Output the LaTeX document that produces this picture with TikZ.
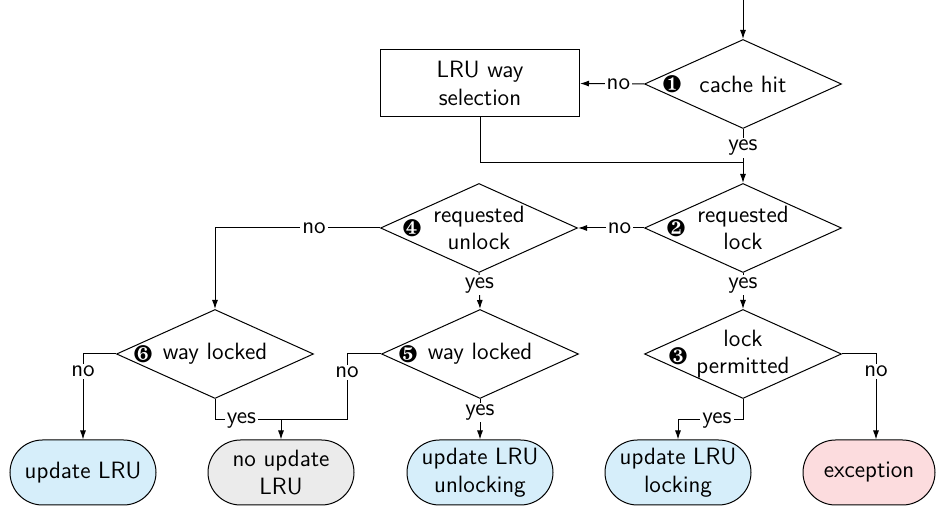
\documentclass[tikz,border=0pt]{standalone}
\usepackage{pifont}
\usetikzlibrary{shapes.geometric,shapes.misc,arrows.meta,calc}

\definecolor{termblue}{RGB}{214,238,250}
\definecolor{termgray}{RGB}{235,235,235}
\definecolor{termpink}{RGB}{252,220,222}

\tikzset{
  decision/.style={draw, shape=diamond, minimum width=98.5pt, minimum height=44.5pt, inner sep=0pt},
  dtext/.style={align=center, inner sep=0pt},
  num/.style={inner sep=0pt, font=\fontsize{12}{14}\selectfont},
  process/.style={draw, rectangle, minimum width=99.5pt, minimum height=33.5pt, align=center, inner sep=0pt},
  terminal/.style={draw, rounded rectangle, minimum width=73pt, minimum height=32.5pt, align=center, inner sep=0pt},
  arr/.style={-{Latex[length=4.5pt,width=3pt]}},
  lbl/.style={fill=white, inner sep=1pt},
}

\begin{document}
\begin{tikzpicture}[x=0.5pt, y=-0.5pt, line width=0.5pt,
  font=\sffamily\fontsize{11.8}{13.8}\selectfont]
\useasboundingbox (0,0) rectangle (937,506);

% decisions
\node[decision] (d1) at (743,84) {};
\node[dtext] at (d1) {cache hit};
\node[num] at ($(d1)+(-71,0)$) {\ding{182}};

\node[decision] (d2) at (743,228) {};
\node[dtext] at (d2) {requested\\lock};
\node[num] at ($(d2)+(-67,0)$) {\ding{183}};

\node[decision] (d4) at (479,228) {};
\node[dtext] at (d4) {requested\\unlock};
\node[num] at ($(d4)+(-67,0)$) {\ding{185}};

\node[decision] (d6) at (215,354) {};
\node[dtext] at (d6) {way locked};
\node[num] at ($(d6)+(-72,0)$) {\ding{187}};

\node[decision] (d5) at (480,354) {};
\node[dtext] at (d5) {way locked};
\node[num] at ($(d5)+(-72,0)$) {\ding{186}};

\node[decision] (d3) at (743,354) {};
\node[dtext] at (d3) {lock\\permitted};
\node[num] at ($(d3)+(-65,2)$) {\ding{184}};

% process box
\node[process] (sel) at (480,83.5) {LRU way\\selection};

% terminals
\node[terminal, fill=termblue] (t1) at (83,472.5) {update LRU};
\node[terminal, fill=termgray] (t2) at (281,472.5) {no update\\LRU};
\node[terminal, fill=termblue] (t3) at (480,472.5) {update LRU\\unlocking};
\node[terminal, fill=termblue] (t4) at (678,472.5) {update LRU\\locking};
\node[terminal, fill=termpink, minimum width=66pt] (t5) at (869,472.5) {exception};

% junction points
\coordinate (in) at (743,0);
\coordinate (j1) at (743,163);
\coordinate (m2) at (281,420);
\coordinate (c5) at (347,420);
\coordinate (m4) at (678,420);

% connectors
\draw[arr] (in) -- (d1.north);
\draw[arr] (d1.west) -- node[lbl, pos=0.4] {no} (sel.east);
\draw[arr] (d1.south) -- node[lbl, pos=0.35] {yes} (d2.north);
\draw (sel.south) |- (j1);

\draw[arr] (d2.west) -- node[lbl, pos=0.37] {no} (d4.east);
\draw[arr] (d2.south) -- node[lbl, pos=0.34] {yes} (d3.north);
\draw[arr] (d4.west) -| node[lbl, pos=0.2] {no} (d6.north);
\draw[arr] (d4.south) -- node[lbl, pos=0.34] {yes} (d5.north);

\draw[arr] (d6.west) -| node[lbl, pos=0.6] {no} (t1.north);
\draw[arr] (d6.south) |- node[lbl, pos=0.7] {yes} (m2) -- (t2.north);
\draw (d5.west) -| node[lbl, pos=0.64] {no} (c5) -- (m2);
\draw[arr] (d5.south) -- node[lbl, pos=0.33] {yes} (t3.north);

\draw[arr] (d3.south) |- node[lbl, pos=0.7] {yes} (m4) -- (t4.north);
\draw[arr] (d3.east) -| node[lbl, pos=0.6] {no} ([xshift=3.5pt]t5.north);
\end{tikzpicture}
\end{document}
